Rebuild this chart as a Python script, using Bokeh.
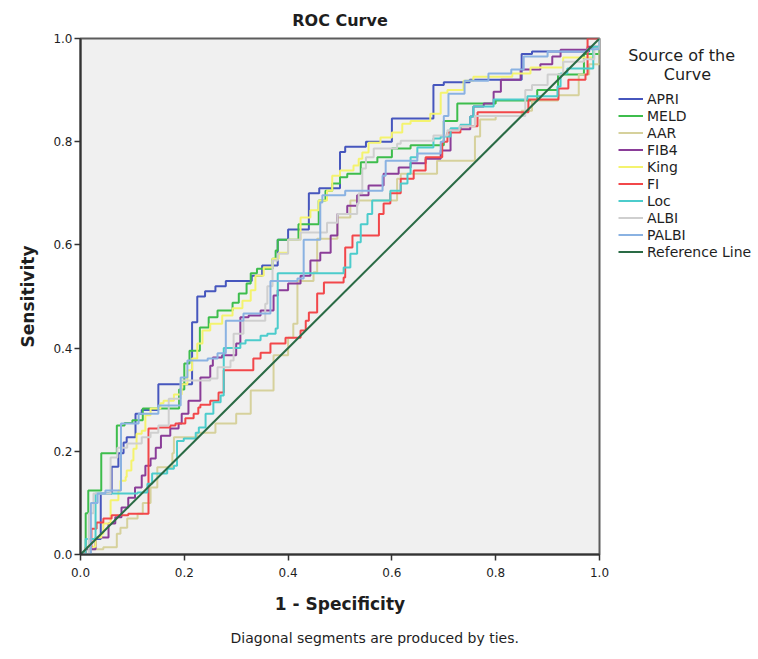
from bokeh.plotting import figure
from bokeh.models import Range1d, FixedTicker, PrintfTickFormatter, Legend, LegendItem, Title
from bokeh.embed import file_html
from bokeh.resources import INLINE

# ---------------- data ----------------
apri_fpr = [0, 0.02, 0.039, 0.06, 0.073, 0.083, 0.089, 0.106, 0.118, 0.15, 0.215, 0.225, 0.24, 0.26, 0.28,
            0.33, 0.35, 0.38, 0.40, 0.44, 0.46, 0.50, 0.51, 0.55, 0.60, 0.68, 0.70, 0.75, 0.85, 0.87, 0.98, 1.0]
apri_tpr = [0, 0.03, 0.118, 0.17, 0.196, 0.217, 0.227, 0.273, 0.28, 0.33, 0.45, 0.50, 0.51, 0.52, 0.53,
            0.54, 0.56, 0.61, 0.63, 0.70, 0.71, 0.78, 0.79, 0.80, 0.845, 0.91, 0.915, 0.92, 0.97, 0.975, 0.98, 1.0]

meld_fpr = [0, 0.01, 0.015, 0.04, 0.07, 0.085, 0.10, 0.12, 0.19, 0.20, 0.21, 0.23, 0.247, 0.264, 0.293, 0.305,
            0.32, 0.328, 0.34, 0.37, 0.376, 0.38, 0.42, 0.459, 0.472, 0.485, 0.50, 0.514, 0.54, 0.572, 0.60,
            0.636, 0.70, 0.726, 0.80, 0.88, 0.92, 0.97, 1.0]
meld_tpr = [0, 0.08, 0.124, 0.196, 0.25, 0.255, 0.26, 0.283, 0.32, 0.37, 0.395, 0.44, 0.46, 0.473, 0.488, 0.506,
            0.525, 0.545, 0.554, 0.573, 0.589, 0.61, 0.64, 0.686, 0.705, 0.719, 0.731, 0.738, 0.76, 0.77, 0.787,
            0.793, 0.84, 0.874, 0.88, 0.90, 0.93, 0.97, 1.0]

aar_fpr = [0, 0.02, 0.044, 0.07, 0.077, 0.09, 0.11, 0.12, 0.135, 0.148, 0.177, 0.18, 0.225, 0.26, 0.30, 0.328,
           0.372, 0.40, 0.41, 0.418, 0.449, 0.456, 0.495, 0.52, 0.61, 0.617, 0.687, 0.76, 0.77, 0.80, 0.85, 0.87,
           0.92, 0.96, 0.98, 1.0]
aar_tpr = [0, 0.01, 0.014, 0.04, 0.052, 0.07, 0.079, 0.10, 0.13, 0.169, 0.196, 0.227, 0.236, 0.254, 0.273, 0.318,
           0.386, 0.42, 0.447, 0.53, 0.547, 0.612, 0.653, 0.686, 0.728, 0.738, 0.763, 0.81, 0.843, 0.85, 0.86, 0.88,
           0.89, 0.93, 0.95, 1.0]

fib4_fpr = [0, 0.01, 0.029, 0.054, 0.067, 0.079, 0.092, 0.105, 0.118, 0.125, 0.135, 0.145, 0.155, 0.173, 0.189,
            0.195, 0.208, 0.231, 0.25, 0.255, 0.273, 0.30, 0.308, 0.324, 0.347, 0.372, 0.38, 0.40, 0.424, 0.443,
            0.462, 0.482, 0.495, 0.514, 0.533, 0.555, 0.584, 0.613, 0.636, 0.665, 0.694, 0.713, 0.751, 0.757,
            0.777, 0.796, 0.81, 0.848, 0.886, 0.909, 0.925, 0.977, 1.0]
fib4_tpr = [0, 0.01, 0.033, 0.06, 0.072, 0.091, 0.11, 0.13, 0.153, 0.172, 0.186, 0.207, 0.23, 0.244, 0.254,
            0.273, 0.298, 0.343, 0.366, 0.382, 0.386, 0.409, 0.46, 0.463, 0.473, 0.502, 0.512, 0.525, 0.54, 0.57,
            0.585, 0.618, 0.66, 0.676, 0.696, 0.715, 0.738, 0.75, 0.758, 0.767, 0.783, 0.824, 0.849, 0.868,
            0.874, 0.897, 0.92, 0.94, 0.95, 0.965, 0.978, 0.984, 1.0]

king_fpr = [0, 0.01, 0.029, 0.04, 0.044, 0.058, 0.073, 0.077, 0.087, 0.089, 0.098, 0.102, 0.108, 0.118, 0.125,
            0.135, 0.154, 0.16, 0.18, 0.195, 0.206, 0.215, 0.225, 0.235, 0.25, 0.273, 0.293, 0.312, 0.328, 0.337,
            0.353, 0.37, 0.382, 0.40, 0.424, 0.443, 0.459, 0.475, 0.485, 0.50, 0.526, 0.536, 0.543, 0.555, 0.578,
            0.60, 0.62, 0.636, 0.674, 0.694, 0.707, 0.738, 0.757, 0.832, 0.867, 0.93, 0.988, 1.0]
king_tpr = [0, 0.015, 0.033, 0.04, 0.06, 0.105, 0.124, 0.143, 0.15, 0.163, 0.182, 0.205, 0.234, 0.24, 0.27,
            0.283, 0.293, 0.298, 0.31, 0.33, 0.357, 0.38, 0.409, 0.434, 0.447, 0.463, 0.477, 0.492, 0.512, 0.54,
            0.556, 0.573, 0.585, 0.61, 0.653, 0.667, 0.686, 0.705, 0.734, 0.744, 0.754, 0.767, 0.779, 0.798, 0.808,
            0.818, 0.835, 0.84, 0.854, 0.895, 0.90, 0.918, 0.926, 0.932, 0.944, 0.963, 0.98, 1.0]

fi_fpr = [0, 0.01, 0.021, 0.031, 0.044, 0.06, 0.092, 0.131, 0.15, 0.173, 0.183, 0.202, 0.218, 0.227, 0.231, 0.25,
          0.266, 0.276, 0.333, 0.347, 0.366, 0.395, 0.424, 0.434, 0.44, 0.456, 0.469, 0.507, 0.51, 0.524, 0.575,
          0.584, 0.597, 0.617, 0.642, 0.665, 0.697, 0.707, 0.732, 0.765, 0.863, 0.921, 0.94, 0.973, 0.977, 1.0]
fi_tpr = [0, 0.014, 0.05, 0.062, 0.07, 0.076, 0.079, 0.244, 0.246, 0.25, 0.254, 0.264, 0.273, 0.285, 0.29, 0.298,
          0.314, 0.357, 0.38, 0.391, 0.409, 0.42, 0.434, 0.453, 0.469, 0.506, 0.527, 0.537, 0.595, 0.618, 0.66,
          0.68, 0.70, 0.728, 0.744, 0.77, 0.80, 0.818, 0.83, 0.857, 0.882, 0.903, 0.92, 0.93, 1.0, 1.0]

loc_fpr = [0, 0.01, 0.029, 0.11, 0.129, 0.138, 0.167, 0.18, 0.186, 0.199, 0.222, 0.228, 0.241, 0.256, 0.27, 0.276,
           0.308, 0.318, 0.347, 0.36, 0.376, 0.38, 0.507, 0.52, 0.533, 0.54, 0.553, 0.562, 0.597, 0.617, 0.63,
           0.636, 0.649, 0.68, 0.694, 0.713, 0.732, 0.751, 0.757, 0.796, 0.861, 0.919, 0.925, 0.938, 0.988, 1.0]
loc_tpr = [0, 0.03, 0.118, 0.12, 0.137, 0.157, 0.166, 0.172, 0.22, 0.225, 0.236, 0.246, 0.273, 0.295, 0.308, 0.40,
           0.409, 0.415, 0.424, 0.428, 0.438, 0.545, 0.556, 0.583, 0.605, 0.64, 0.66, 0.686, 0.705, 0.719, 0.738,
           0.77, 0.789, 0.806, 0.81, 0.826, 0.833, 0.849, 0.868, 0.882, 0.888, 0.907, 0.932, 0.942, 0.984, 1.0]

albi_fpr = [0, 0.016, 0.025, 0.058, 0.071, 0.09, 0.118, 0.135, 0.15, 0.17, 0.193, 0.25, 0.264, 0.289, 0.295,
            0.314, 0.356, 0.36, 0.37, 0.38, 0.40, 0.424, 0.475, 0.495, 0.533, 0.536, 0.543, 0.55, 0.565, 0.61,
            0.617, 0.68, 0.707, 0.73, 0.76, 0.857, 0.87, 0.90, 0.93, 0.97, 0.99, 1.0]
albi_tpr = [0, 0.08, 0.118, 0.188, 0.207, 0.215, 0.227, 0.236, 0.25, 0.302, 0.337, 0.341, 0.363, 0.376, 0.428,
            0.453, 0.486, 0.52, 0.57, 0.583, 0.61, 0.624, 0.643, 0.66, 0.68, 0.70, 0.748, 0.77, 0.787, 0.796,
            0.802, 0.812, 0.822, 0.83, 0.85, 0.90, 0.91, 0.93, 0.955, 0.96, 0.98, 1.0]

palbi_fpr = [0, 0.02, 0.033, 0.048, 0.078, 0.112, 0.15, 0.193, 0.206, 0.245, 0.264, 0.28, 0.314, 0.366, 0.418,
             0.43, 0.462, 0.466, 0.51, 0.582, 0.588, 0.649, 0.694, 0.70, 0.709, 0.74, 0.786, 0.83, 0.854, 0.90,
             0.977, 1.0]
palbi_tpr = [0, 0.10, 0.118, 0.124, 0.254, 0.273, 0.289, 0.343, 0.376, 0.38, 0.39, 0.453, 0.467, 0.53, 0.535,
             0.61, 0.682, 0.696, 0.705, 0.734, 0.763, 0.777, 0.80, 0.85, 0.893, 0.918, 0.932, 0.94, 0.965, 0.975,
             0.979, 1.0]

ref_x = [0, 1]
ref_y = [0, 1]

series_names = ["APRI", "MELD", "AAR", "FIB4", "King", "FI", "Loc", "ALBI", "PALBI"]
series_colors = ["#4656bd", "#3dbd4c", "#d6d19c", "#8a3d98", "#f4f36e", "#f2474a", "#4ccccc", "#cfcfcf", "#8ab2e2"]
ref_color = "#2a6b45"
ticks = [0.0, 0.2, 0.4, 0.6, 0.8, 1.0]

FONT = "DejaVu Sans"
TXT = "#1e1e1e"
NB = "\u00a0"

p = figure(frame_width=519, frame_height=516, output_backend="svg", toolbar_location=None,
           x_range=Range1d(0, 1), y_range=Range1d(0, 1),
           min_border_left=80, min_border_right=10, min_border_top=38, min_border_bottom=105)
p.background_fill_color = "#f0f0f0"
p.border_fill_color = "white"
p.outline_line_color = "#5c5c5c"
p.outline_line_width = 2
p.xgrid.visible = False
p.ygrid.visible = False

p.title.text = "ROC Curve"
p.title.align = "center"
p.title.text_font = FONT
p.title.text_font_size = "16px"
p.title.text_font_style = "bold"
p.title.text_color = TXT
p.title.standoff = 17

for ax in (p.xaxis, p.yaxis):
    ax.ticker = FixedTicker(ticks=ticks)
    ax.formatter = PrintfTickFormatter(format="%.1f")
    ax.axis_line_color = "#333333"
    ax.axis_line_width = 2
    ax.major_tick_line_color = "#333333"
    ax.major_tick_line_width = 1.5
    ax.major_tick_out = 6
    ax.major_tick_in = 0
    ax.minor_tick_line_color = None
    ax.major_label_text_font = FONT
    ax.major_label_text_font_size = "12px"
    ax.major_label_text_color = TXT
    ax.axis_label_text_font = FONT
    ax.axis_label_text_font_size = "17px"
    ax.axis_label_text_font_style = "bold"
    ax.axis_label_text_color = TXT

p.xaxis.axis_label = "1 - Specificity"
p.xaxis.major_label_standoff = 7
p.xaxis.axis_label_standoff = 14
p.yaxis.axis_label = "Sensitivity"
p.yaxis.major_label_standoff = 2
p.yaxis.axis_label_standoff = 12

data = [(apri_fpr, apri_tpr), (meld_fpr, meld_tpr), (aar_fpr, aar_tpr), (fib4_fpr, fib4_tpr),
        (king_fpr, king_tpr), (fi_fpr, fi_tpr), (loc_fpr, loc_tpr), (albi_fpr, albi_tpr),
        (palbi_fpr, palbi_tpr)]

items = []
for name, color, (xs, ys) in zip(series_names, series_colors, data):
    r = p.step(xs, ys, mode="after", line_color=color, line_width=2)
    items.append(LegendItem(label=name, renderers=[r]))
rr = p.line(ref_x, ref_y, line_color=ref_color, line_width=2)
items.append(LegendItem(label="Reference Line", renderers=[rr]))

legend_title = NB * 2 + "Source of the\n" + NB * 9 + "Curve"
legend = Legend(items=items, location=(17, 292), glyph_width=25, glyph_height=17, label_height=17,
                spacing=0, padding=2, margin=0, label_standoff=4,
                border_line_alpha=0, background_fill_alpha=0,
                title=legend_title, title_text_font=FONT, title_text_font_size="16px",
                title_text_font_style="normal", title_text_color=TXT,
                title_standoff=6,
                label_text_font=FONT, label_text_font_size="14px", label_text_color=TXT)
p.add_layout(legend, "right")

foot = Title(text="Diagonal segments are produced by ties.", align="left", offset=150,
             text_font=FONT, text_font_size="14px", text_font_style="normal", text_color=TXT,
             standoff=22)
p.add_layout(foot, "below")

open("out.html", "w").write(file_html(p, INLINE))
